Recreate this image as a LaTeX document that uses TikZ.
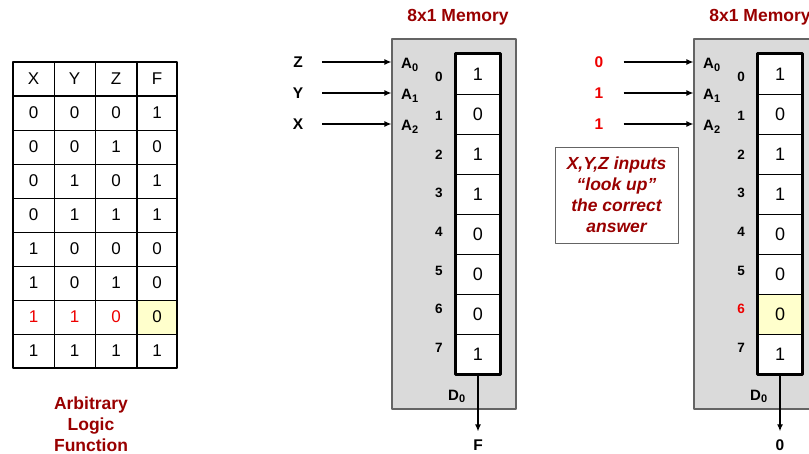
\documentclass[tikz,border=0pt]{standalone}
\usepackage{fontspec}
\setmainfont{Liberation Sans}
\usetikzlibrary{arrows.meta}

\definecolor{darkred}{RGB}{153,0,0}
\definecolor{litred}{RGB}{238,0,0}
\definecolor{hilite}{RGB}{255,255,204}
\definecolor{boxgray}{RGB}{218,218,218}
\definecolor{edgegray}{RGB}{100,100,100}

\newcommand{\fsz}[1]{\fontsize{#1}{#1}\selectfont}
\newcommand{\pinsub}[1]{\raisebox{-2.6pt}{\fsz{11}#1}}

\tikzset{
  thinrule/.style={line width=0.8pt},
  thickrule/.style={line width=2.6pt},
  tabtxt/.style={font=\fsz{17}},
  memcell/.style={draw, line width=0.8pt, minimum width=44pt, minimum height=40pt, inner sep=0pt, font=\fsz{18}},
  membox/.style={draw=edgegray, fill=boxgray, line width=1.1pt, minimum width=124pt, minimum height=370pt, inner sep=0pt},
  rowlbl/.style={font=\bfseries\fsz{13.5}, inner sep=0pt},
  addr/.style={font=\bfseries\fsz{15}, inner sep=0pt, anchor=base west},
  inlbl/.style={font=\bfseries\fsz{15.5}, inner sep=0pt},
  title/.style={font=\bfseries\fontsize{17.5}{21}\selectfont, text=darkred, align=center},
  wire/.style={-{Latex[length=7pt,width=6pt]}, line width=1.3pt},
}

% gray memory block, eight cells, address and data pins
% #1 = name prefix, #2 = highlighted row (-1 for none)
\newcommand{\memcore}[2]{%
  \node[membox] (#1box) at (454,224) {};
  \node[title] (#1title) at (458,17) {8x1 Memory};
  \foreach \v [count=\i from 0] in {1,0,1,1,0,0,0,1} {
    \ifnum\i=#2 \def\cfill{hilite}\def\lcol{litred}\else \def\cfill{white}\def\lcol{black}\fi
    \node[memcell, fill=\cfill] (#1c\i) at (478,{74+40*\i}) {\v};
    \node[rowlbl, text=\lcol] (#1r\i) at (439,{77+38.7*\i}) {\i};
  }
  \draw[thickrule] (#1c0.north west) rectangle (#1c7.south east);
  \foreach \k/\yy in {0/68.5,1/99.5,2/130.5}
    \node[addr] (#1a\k) at (401,\yy) {A\pinsub{\k}};
  \node[addr] (#1d) at (448,400) {D\pinsub{0}};
}

\begin{document}
\begin{tikzpicture}[x=1pt, y=-1pt, line join=round]
  \useasboundingbox (0,0) rectangle (809,454);
  \clip (0,0) rectangle (809,454);

  % truth table
  \fill[hilite] (137,300) rectangle (177,334);
  \foreach \yy in {130,164,...,334}
    \draw[thinrule] (13,\yy) -- (177,\yy);
  \foreach \xx in {54,95}
    \draw[thinrule] (\xx,62) -- (\xx,368);
  \draw[thickrule] (13,96) -- (177,96);
  \draw[thickrule] (137,62) -- (137,368);
  \draw[thickrule] (13,62) rectangle (177,368);

  \foreach \h/\xx in {X/33.5,Y/74.5,Z/116,F/157}
    \node[tabtxt] (hd\h) at (\xx,79) {\h};
  \foreach \vx/\vy/\vz/\vf/\col [count=\r] in
      {0/0/0/1/black, 0/0/1/0/black, 0/1/0/1/black, 0/1/1/1/black,
       1/0/0/0/black, 1/0/1/0/black, 1/1/0/0/litred, 1/1/1/1/black} {
    \node[tabtxt, text=\col] (x\r) at (33.5,{79+34*\r}) {\vx};
    \node[tabtxt, text=\col] (y\r) at (74.5,{79+34*\r}) {\vy};
    \node[tabtxt, text=\col] (z\r) at (116,{79+34*\r}) {\vz};
    \node[tabtxt] (f\r) at (157,{79+34*\r}) {\vf};
  }
  \node[title] (fnlbl) at (91,424) {Arbitrary\\Logic\\Function};

  % memory with the variables on its address pins
  \memcore{m}{-1}
  \foreach \n/\yy in {Z/62,Y/93,X/124} {
    \node[inlbl] (in\n) at (298,\yy) {\n};
    \draw[wire] ([xshift=19pt]in\n.east) -- (mbox.west |- in\n);
  }
  \node[inlbl] (outF) at (478,445) {F};
  \draw[wire] (mc7.south) -- ([yshift=8pt]outF.north);

  % same memory, looking up row 6
  \begin{scope}[xshift=302pt]
    \memcore{n}{6}
    \foreach \n/\v/\yy in {a/0/62,b/1/93,c/1/124} {
      \node[inlbl, text=litred] (bit\n) at (297,\yy) {\v};
      \draw[wire] ([xshift=20pt]bit\n.east) -- (nbox.west |- bit\n);
    }
    \node[inlbl] (outV) at (478,445) {0};
    \draw[wire] (nc7.south) -- ([yshift=8pt]outV.north);
  \end{scope}

  \node[draw=edgegray, fill=white, line width=0.9pt, minimum width=123pt,
        minimum height=96pt, inner sep=0pt, text=darkred, align=center,
        font=\bfseries\itshape\fontsize{17.5}{21}\selectfont] (note) at (616.5,195)
    {X,Y,Z inputs\\“look up”\\the correct\\answer};
\end{tikzpicture}
\end{document}
